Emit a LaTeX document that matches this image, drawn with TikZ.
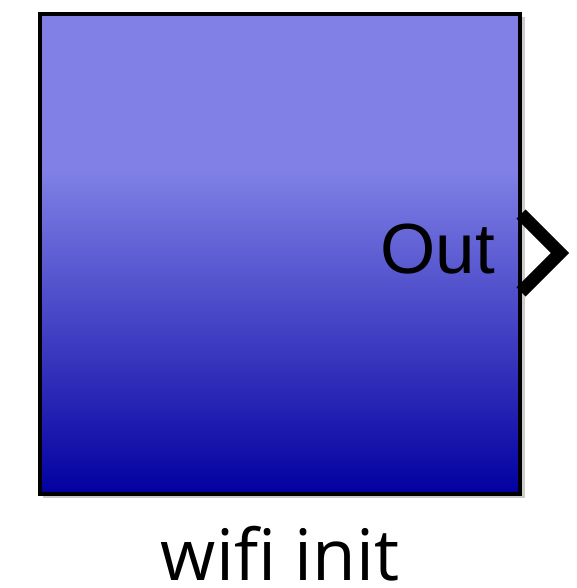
\documentclass[tikz,border=0pt]{standalone}
\usepackage{fontspec}
\setmainfont{Liberation Sans}
\newfontfamily\labelfont{Open Sans}
\definecolor{topblue}{RGB}{128,128,230}
\definecolor{botblue}{RGB}{2,0,160}
\definecolor{shadowgray}{RGB}{170,170,170}
\begin{document}
\begin{tikzpicture}[x=1pt,y=-1pt,
  blockframe/.style={draw=black,line width=3.5pt},
  portmark/.style={draw=black,line width=13pt,miter limit=10}]
\useasboundingbox (0,0) rectangle (576,588);
% shadow
\fill[shadowgray,opacity=0.6] (43,17) rectangle (525,498);
% gradient body
\fill[topblue] (40,14) rectangle (520,172);
\shade[top color=topblue,bottom color=botblue] (40,170) rectangle (520,494);
\node[blockframe,minimum width=480pt,minimum height=480pt,inner sep=0pt] (blk) at (280,254) {};
% output port
\coordinate (p1) at (521,214);
\coordinate (p2) at (560,253);
\coordinate (p3) at (521,292);
\draw[portmark] (p1) -- (p2) -- (p3);
\node[anchor=east,font=\fontsize{71}{71}\selectfont,inner sep=0pt] (out) at (495,249) {Out};
\node[anchor=base,font=\labelfont\fontsize{71}{71}\selectfont,inner sep=0pt] (name) at (280,580) {wifi init};
\end{tikzpicture}
\end{document}
